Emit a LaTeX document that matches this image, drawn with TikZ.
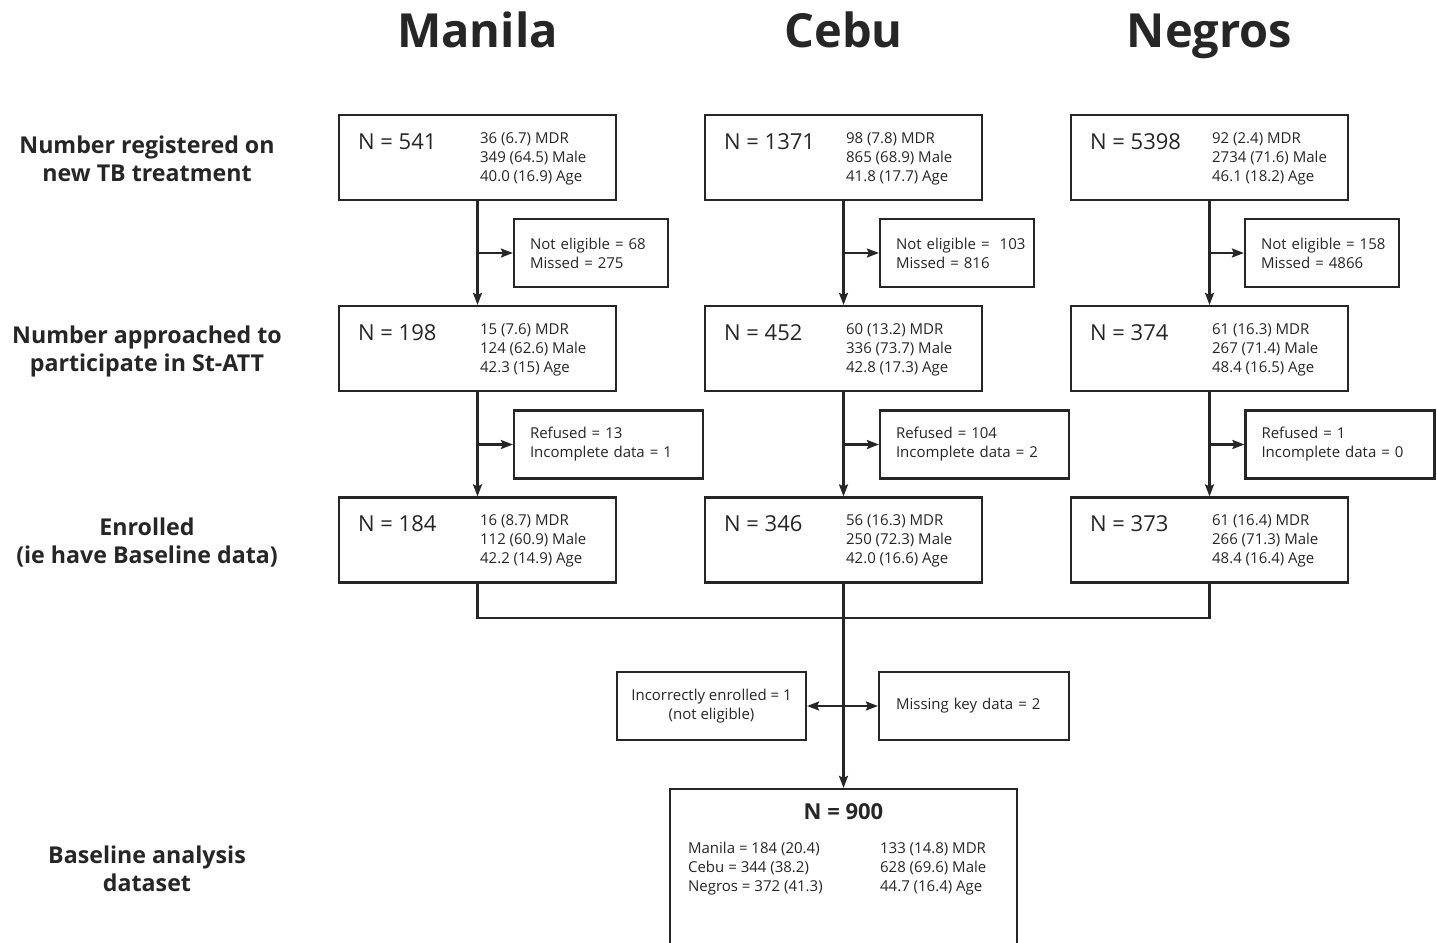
\documentclass[tikz,border=0pt]{standalone}
\usepackage{fontspec}
\setmainfont{Open Sans}
\usetikzlibrary{positioning,arrows.meta}
\tikzset{
	box/.style={draw,minimum width=277pt,minimum height=85pt,inner sep=0pt},
	sidebox/.style={draw,minimum height=68pt,inner xsep=16pt,align=left,font=\fontsize{15}{19}\selectfont},
	ntext/.style={anchor=west,inner sep=0pt,font=\fontsize{22}{26}\selectfont},
	stat/.style={anchor=west,inner sep=0pt,align=left,font=\fontsize{15}{19}\selectfont},
	head/.style={anchor=base,font=\bfseries\fontsize{47}{52}\selectfont},
	rowlabel/.style={align=center,font=\bfseries\fontsize{23.2}{28}\selectfont}
}
\begin{document}
\begin{tikzpicture}[
	x=1pt,y=-1pt,
	>={Stealth[length=12pt,width=9pt,inset=2pt]},
	line width=2.2pt,
	color={black!85}
	]
	\useasboundingbox (0,0) rectangle (1437,942);
	\fill[white] (0,0) rectangle (1437,942);
	\clip (0,0) rectangle (1437,942);
	% headings
	\node[head] (hM) at (477.5,48) {Manila};
	\node[head] (hC) at (843.5,48) {Cebu};
	\node[head] (hN) at (1209.5,48) {Negros};
	% row labels
	\node[rowlabel] (l1) at (147,159) {Number registered on\\new TB treatment};
	\node[rowlabel] (l2) at (147,351) {Number approached to\\participate in St-ATT};
	\node[rowlabel] (l3) at (147,543) {Enrolled\\(ie have Baseline data)};
	\node[rowlabel] (l4) at (147,869) {Baseline analysis\\dataset};
	% row 1
	\node[box] (m1) at (477.5,157.5) {};
	\node[ntext] (m1n) at (357,142) {N = 541};
	\node[stat] (m1s) at (479,159) {36 (6.7) MDR\\349 (64.5) Male\\40.0 (16.9) Age};
	\node[box] (c1) at (843.5,157.5) {};
	\node[ntext] (c1n) at (723,142) {N = 1371};
	\node[stat] (c1s) at (845,159) {98 (7.8) MDR\\865 (68.9) Male\\41.8 (17.7) Age};
	\node[box] (n1) at (1209.5,157.5) {};
	\node[ntext] (n1n) at (1089,142) {N = 5398};
	\node[stat] (n1s) at (1211,159) {92 (2.4) MDR\\2734 (71.6) Male\\46.1 (18.2) Age};
	% exclusions 1
	\node[sidebox,text width=122pt] (ms1) at (591,253) {\mbox{Not eligible = 68}\\Missed = 275};
	\node[sidebox,text width=122pt] (cs1) at (957,253) {\mbox{Not eligible =~ 103}\\Missed = 816};
	\node[sidebox,text width=122pt] (ns1) at (1322,253) {\mbox{Not eligible = 158}\\Missed = 4866};
	% row 2
	\node[box] (m2) at (477.5,348.5) {};
	\node[ntext] (m2n) at (357,333) {N = 198};
	\node[stat] (m2s) at (479,350) {15 (7.6) MDR\\124 (62.6) Male\\42.3 (15) Age};
	\node[box] (c2) at (843.5,348.5) {};
	\node[ntext] (c2n) at (723,333) {N = 452};
	\node[stat] (c2s) at (845,350) {60 (13.2) MDR\\336 (73.7) Male\\42.8 (17.3) Age};
	\node[box] (n2) at (1209.5,348.5) {};
	\node[ntext] (n2n) at (1089,333) {N = 374};
	\node[stat] (n2s) at (1211,350) {61 (16.3) MDR\\267 (71.4) Male\\48.4 (16.5) Age};
	% exclusions 2
	\node[sidebox,text width=157pt] (ms2) at (608.5,444.5) {Refused = 13\\Incomplete data = 1};
	\node[sidebox,text width=157pt] (cs2) at (974.5,444.5) {Refused = 104\\Incomplete data = 2};
	\node[sidebox,text width=157pt] (ns2) at (1340,444.5) {Refused = 1\\Incomplete data = 0};
	% row 3
	\node[box] (m3) at (477.5,540) {};
	\node[ntext] (m3n) at (357,524) {N = 184};
	\node[stat] (m3s) at (479,541) {16 (8.7) MDR\\112 (60.9) Male\\42.2 (14.9) Age};
	\node[box] (c3) at (843.5,540) {};
	\node[ntext] (c3n) at (723,524) {N = 346};
	\node[stat] (c3s) at (845,541) {56 (16.3) MDR\\250 (72.3) Male\\42.0 (16.6) Age};
	\node[box] (n3) at (1209.5,540) {};
	\node[ntext] (n3n) at (1089,524) {N = 373};
	\node[stat] (n3s) at (1211,541) {61 (16.4) MDR\\266 (71.3) Male\\48.4 (16.4) Age};
	% late exclusions
	\node[sidebox,align=center,minimum width=189pt,inner xsep=0pt] (inc) at (711.5,706) {Incorrectly enrolled = 1\\(not eligible)};
	\node[sidebox,text width=156pt,inner xsep=17pt] (miss) at (974,706) {Missing key data = 2};
	% final
	\node[draw,minimum width=347pt,minimum height=200pt] (fin) at (843.5,889) {};
	\node[font=\bfseries\fontsize{22}{26}\selectfont,inner sep=0pt] (finn) at (843.5,812) {N = 900};
	\node[stat] (fins1) at (687,869) {Manila = 184 (20.4)\\Cebu = 344 (38.2)\\Negros = 372 (41.3)};
	\node[stat] (fins2) at (879,869) {133 (14.8) MDR\\628 (69.6) Male\\44.7 (16.4) Age};
	% connectors
	\begin{scope}[->]
		\draw (m1) -- (m2);
		\draw (c1) -- (c2);
		\draw (n1) -- (n2);
		\draw (m1.south |- ms1.west) -- (ms1);
		\draw (c1.south |- cs1.west) -- (cs1);
		\draw (n1.south |- ns1.west) -- (ns1);
		\draw (m2) -- (m3);
		\draw (c2) -- (c3);
		\draw (n2) -- (n3);
		\draw (m2.south |- ms2.west) -- (ms2);
		\draw (c2.south |- cs2.west) -- (cs2);
		\draw (n2.south |- ns2.west) -- (ns2);
		\draw (c3.south) -- (fin.north);
	\end{scope}
	\coordinate (join) at (843.5,618);
	\draw (m3.south) |- (join) -| (n3.south);
	\draw[<->] (inc.east) -- (miss.west);
\end{tikzpicture}
\end{document}
